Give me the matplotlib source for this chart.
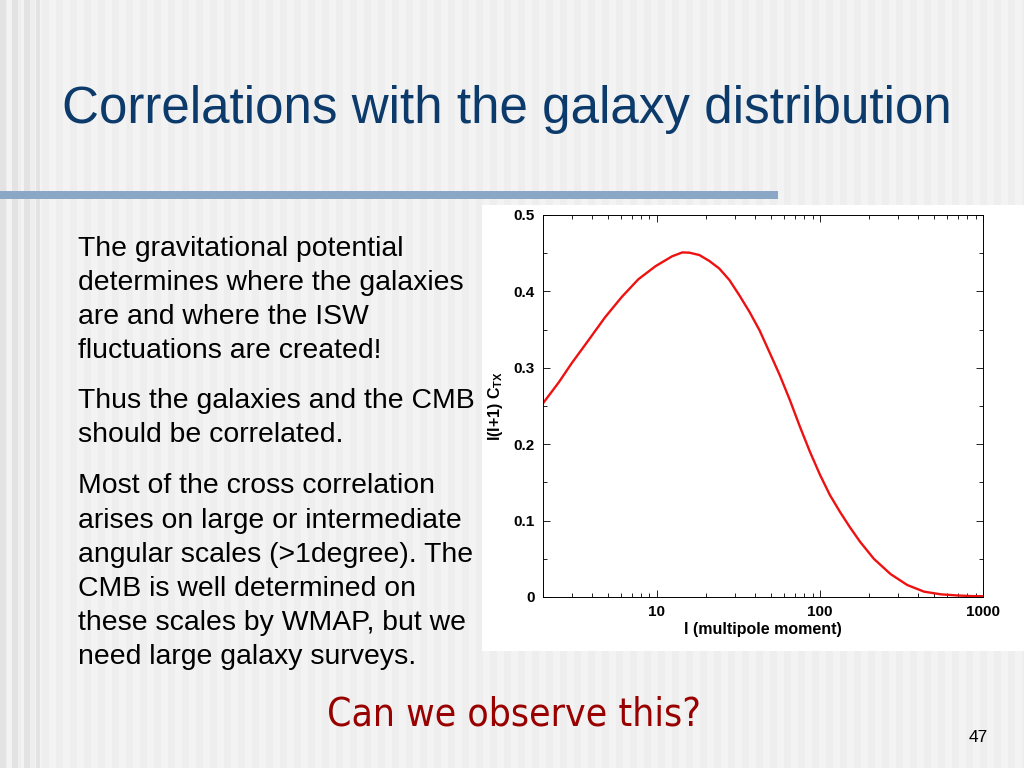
import numpy as np
import matplotlib
matplotlib.use("Agg")
import matplotlib.pyplot as plt
from matplotlib.ticker import MultipleLocator

# multipole moment l and l(l+1) C_TX
ell = [2.0, 2.5, 3.0, 3.8, 4.8, 6.1, 7.7, 9.8, 12.4, 14.3, 15.8, 18.2, 20.9, 24.1,
       27.8, 32.0, 37.0, 42.6, 49.1, 56.6, 65.3, 75.3, 86.8, 100, 115, 133, 153,
       176, 214, 271, 343, 435, 551, 698, 850, 1000]
cl_tx = [0.2535, 0.281, 0.306, 0.336, 0.366, 0.393, 0.416, 0.433, 0.446, 0.451,
         0.4507, 0.4476, 0.440, 0.430, 0.415, 0.395, 0.373, 0.349, 0.320, 0.2906,
         0.258, 0.223, 0.190, 0.160, 0.1335, 0.111, 0.091, 0.0724, 0.050, 0.030,
         0.0157, 0.007, 0.0035, 0.002, 0.0012, 0.001]

title = "Correlations with the galaxy distribution"
paragraphs = [
    ["The gravitational potential", "determines where the galaxies",
     "are and where the ISW", "fluctuations are created!"],
    ["Thus the galaxies and the CMB", "should be correlated."],
    ["Most of the cross correlation", "arises on large or intermediate",
     "angular scales (>1degree). The", "CMB is well determined on",
     "these scales by WMAP, but we", "need large galaxy surveys."],
]
para_start = [255.5, 408.3, 493.3]
question = "Can we observe this?"
page = "47"

W, H = 1024, 768
fig = plt.figure(figsize=(W / 100, H / 100), dpi=100)

# slide background with faint vertical stripes
bg = fig.add_axes([0, 0, 1, 1])
stripe = np.full(W, 0.95)
stripe[(np.arange(W) // 7) % 2 == 0] = 0.93
stripe[:40][(np.arange(40) // 6) % 2 == 0] = 0.89
bg.imshow(np.tile(stripe, (H, 1)), cmap="gray", vmin=0, vmax=1, aspect="auto",
          extent=[0, W, H, 0])
bg.set_xlim(0, W)
bg.set_ylim(H, 0)
bg.axis("off")

# title and rule
bg.text(62, 110, title, fontsize=36.8, color="#0b3a6b", family="Liberation Sans",
        va="center", ha="left")
bg.add_patch(plt.Rectangle((0, 191), 778, 8, color="#8aa8c6", lw=0))

# white panel behind the plot
bg.add_patch(plt.Rectangle((482, 205), W - 482, 446, color="white", lw=0))

# body text
for lines, y0 in zip(paragraphs, para_start):
    for i, line in enumerate(lines):
        bg.text(78, y0 + i * 34.2, line, fontsize=20.4, color="black",
                family="Liberation Sans", va="baseline", ha="left")

bg.text(327, 715, question, fontsize=28, color="#990000", family="DejaVu Sans",
        stretch="condensed", va="center", ha="left")
bg.text(978, 738, page, fontsize=12.5, color="black", family="Liberation Sans",
        va="center", ha="center")

# the plot
ax = fig.add_axes([543 / W, 1 - 597 / H, (983 - 543) / W, (597 - 215) / H])
ax.plot(ell, cl_tx, color="#ee1111", lw=1.7)
ax.set_xscale("log")
ax.set_xlim(2, 1000)
ax.set_ylim(0, 0.5)
ax.set_yticks([0, 0.1, 0.2, 0.3, 0.4, 0.5])
ax.set_yticklabels(["0", "0.1", "0.2", "0.3", "0.4", "0.5"])
ax.set_xticks([10, 100, 1000])
ax.set_xticklabels(["10", "100", "1000"])
ax.yaxis.set_minor_locator(MultipleLocator(0.05))
ax.tick_params(which="both", direction="in", top=True, right=True, labelsize=11,
               pad=6)
ax.tick_params(which="major", length=5, width=0.6)
ax.tick_params(which="minor", length=3, width=0.6)
for lab in ax.get_xticklabels() + ax.get_yticklabels():
    lab.set_fontweight("bold")
    lab.set_family("Liberation Sans")
for s in ax.spines.values():
    s.set_linewidth(0.7)
ax.set_xlabel("l (multipole moment)", fontsize=11.5, fontweight="bold",
              family="Liberation Sans", labelpad=2)
ax.set_ylabel(r"l(l+1) C$_{\mathregular{TX}}$", fontsize=11.5, fontweight="bold",
              family="Liberation Sans", labelpad=6)

fig.savefig("out.png", dpi=100)
